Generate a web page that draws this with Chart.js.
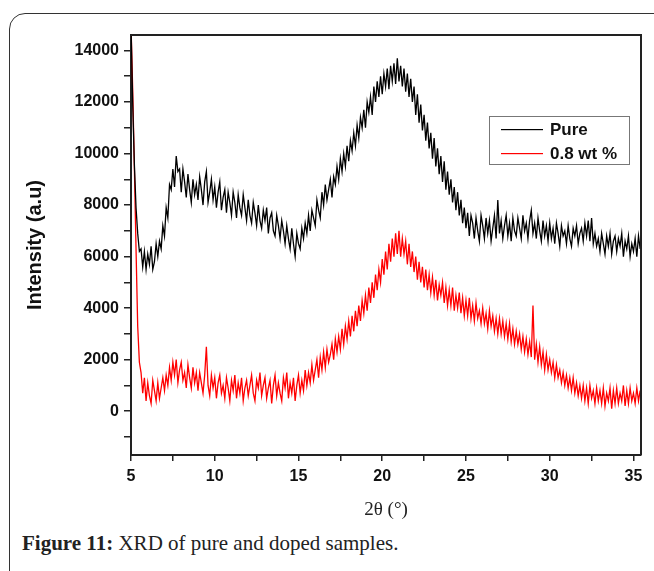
<!DOCTYPE html>
<html>
<head>
<meta charset="utf-8">
<script src="https://cdn.jsdelivr.net/npm/chart.js@4"></script>
<style>
    body { margin: 0; background: #fff; width: 654px; height: 571px; overflow: hidden; position: relative; }
    #cornice { position: absolute; left: 9px; top: 13px; width: 720px; height: 620px; border: 1px solid #333; border-radius: 16px; }
    #contenitore { position: absolute; left: 0; top: 0; width: 654px; height: 530px; }
    #didascalia { position: absolute; left: 22px; top: 531px; font-family: "Liberation Serif", serif; font-size: 21px; color: #222; white-space: nowrap; }
</style>
</head>
<body>
<div id="cornice"></div>
<div id="contenitore"><canvas id="graficoXrd" width="654" height="530"></canvas></div>
<div id="didascalia"><b>Figure 11:</b> XRD of pure and doped samples.</div>
<script>
// 2θ scan: 5.0 -> 35.4, step 0.1
const inizioAngolo = 5.0;
const passoAngolo = 0.1;

const etichettaPure = 'Pure';
const etichettaDrogato = '0.8 wt %';
const colorePure = '#000000';
const coloreDrogato = '#ff0000';

// Pure (one row = 1 degree)
const intensitaPure = [
    15000, 12000, 9600, 7900, 6900, 6200, 6300, 5600, 6200, 5500,
    6100, 5700, 6400, 5500, 5800, 6500, 6000, 6600, 6300, 7200,
    6800, 7900, 7500, 8800, 8600, 9400, 8700, 9900, 9300, 9400,
    8500, 9400, 8900, 8300, 9200, 8600, 8100, 9000, 8400, 8800,
    8200, 9100, 8600, 8000, 8900, 9300, 8100, 8500, 9000, 8200,
    8700, 7900, 8500, 8900, 7800, 8300, 8600, 7700, 8500, 8100,
    7600, 8500, 8100, 7500, 8400, 7900, 7600, 8400, 7900, 7400,
    8200, 7600, 7300, 8100, 7700, 7200, 8000, 7400, 7100, 7800,
    7400, 7900, 6900, 7500, 7700, 7000, 6800, 7600, 7200, 6700,
    7400, 7000, 6500, 7200, 6700, 6300, 7100, 6500, 6000, 6900,
    6500, 6300, 7100, 6700, 7300, 6900, 7600, 7000, 7800, 7500,
    7200, 8200, 7800, 7500, 8500, 8000, 8800, 8200, 8600, 9000,
    8300, 9100, 8800, 9500, 9000, 9800, 9300, 10000, 9500, 10300,
    9700, 10500, 10100, 10800, 10300, 11100, 10600, 11400, 11000, 11700,
    11000, 12000, 11600, 12200, 11500, 12600, 12000, 12800, 12200, 13000,
    12300, 13100, 12600, 13300, 12500, 13400, 12800, 13500, 12700, 13700,
    12800, 13400, 12600, 13300, 12400, 13100, 12200, 12900, 12000, 12600,
    11500, 12300, 11200, 11900, 10900, 11500, 10500, 11200, 10200, 10800,
    9800, 10600, 9500, 10200, 9200, 9900, 8900, 9700, 8600, 9300,
    8400, 9000, 8100, 8700, 7800, 8500, 7600, 8200, 7300, 7900,
    7100, 7700, 6800, 7600, 7300, 6700, 7500, 7000, 6600, 7600,
    7200, 6700, 7500, 6900, 7400, 6600, 7100, 7600, 6700, 8200,
    6900, 7400, 6700, 7200, 7600, 6800, 7300, 6600, 7500, 7000,
    6800, 7500, 7100, 6700, 7600, 7000, 7300, 6700, 7400, 7800,
    6900, 7300, 6700, 7500, 7000, 6600, 7400, 6800, 7200, 6600,
    7300, 6700, 7100, 6500, 7300, 6900, 6400, 7200, 6800, 7000,
    6500, 7200, 6700, 6400, 7100, 6800, 7200, 6500, 6900, 7100,
    6600, 7300, 6800, 7400, 6600, 7500, 6500, 6900, 6400, 6700,
    6200, 6900, 6500, 6100, 6800, 6400, 6900, 6100, 6600, 6800,
    6200, 6700, 6400, 6900, 6000, 6600, 6300, 6800, 6000, 6500,
    6200, 6700, 6000, 6800, 6300
];

// 0.8 wt %
const intensitaDrogato = [
    15000, 12500, 9500, 6300, 3300, 1900, 1500, 700, 1300, 400,
    1100, 600, 300, 1200, 800, 400, 1100, 500, 900, 1300,
    800, 1400, 1000, 1700, 1200, 1900, 1400, 2000, 1100, 1600,
    1900, 1200, 1500, 900, 1800, 1300, 900, 1700, 1100, 1500,
    800, 1500, 1100, 700, 1400, 2500, 1000, 600, 1400, 900,
    1300, 500, 1100, 1400, 700, 1000, 500, 1300, 900, 400,
    1200, 800, 1400, 500, 1100, 700, 1300, 400, 900, 1200,
    600, 1000, 1400, 700, 400, 1200, 900, 1500, 600, 1000,
    1300, 500, 900, 1200, 300, 1000, 1400, 600, 1100, 700,
    400, 1300, 900, 1500, 500, 1100, 700, 1300, 400, 1000,
    1400, 700, 1200, 800, 1600, 1000, 1500, 1100, 1800, 1200,
    1600, 2000, 1300, 2100, 1600, 2300, 1700, 2400, 1900, 2200,
    2600, 2000, 2800, 2300, 2900, 2400, 3200, 2600, 3300, 2800,
    3500, 2900, 3700, 3100, 3900, 3300, 4100, 3500, 4300, 3800,
    4500, 3900, 4800, 4200, 5000, 4400, 5300, 4700, 5500, 5000,
    5900, 5300, 6200, 5500, 6500, 5800, 6700, 6000, 6900, 6100,
    7000, 6000, 6700, 6100, 6600, 5700, 6500, 5600, 6200, 5400,
    6000, 5100, 5800, 5000, 5600, 4800, 5500, 4700, 5300, 4600,
    5200, 4500, 5100, 4300, 4900, 4500, 5000, 4200, 4800, 4100,
    4700, 4100, 4800, 3900, 4500, 4000, 4600, 3800, 4400, 3700,
    4300, 3700, 4400, 3600, 4100, 3500, 4200, 3600, 3900, 3400,
    4000, 3400, 3800, 3200, 3900, 3300, 3700, 3100, 3600, 3000,
    3600, 3000, 3500, 2900, 3400, 2800, 3400, 2700, 3200, 2600,
    3100, 2600, 3000, 2400, 2900, 2300, 2800, 2200, 2700, 2100,
    4100, 2000, 2600, 1900, 2500, 1800, 2300, 1600, 2200, 1600,
    2000, 1500, 1900, 1300, 1800, 1300, 1600, 1100, 1500, 1000,
    1400, 900, 1300, 800, 1300, 700, 1100, 600, 1000, 500,
    1000, 400, 900, 300, 1000, 500, 800, 300, 900, 400,
    800, 300, 900, 200, 700, 400, 900, 100, 800, 300,
    900, 300, 700, 400, 1000, 200, 800, 300, 900, 400,
    700, 300, 900, 400, 800
];

// axes
const minX = 5, maxX = 35.45;
const minY = -1700, maxY = 14600;
const tickX = [5, 7.5, 10, 12.5, 15, 17.5, 20, 22.5, 25, 27.5, 30, 32.5, 35];
const tickY = [-1000, 0, 1000, 2000, 3000, 4000, 5000, 6000, 7000, 8000, 9000, 10000, 11000, 12000, 13000, 14000];
const etichetteX = [5, 10, 15, 20, 25, 30, 35];
const etichetteY = [0, 2000, 4000, 6000, 8000, 10000, 12000, 14000];

function creaPunti(lista) {
    return lista.map(function(valore, i) {
        return { x: +(inizioAngolo + i * passoAngolo).toFixed(1), y: valore };
    });
}

const fontTick = { family: 'Liberation Sans', size: 16, weight: 'bold' };

// frame on top/right + legend box in the upper right
const cornicePlugin = {
    id: 'cornicePlugin',
    afterDraw(chart) {
        const c = chart.ctx;
        const a = chart.chartArea;
        c.save();
        c.strokeStyle = '#222';
        c.lineWidth = 2;
        c.beginPath();
        c.moveTo(a.left, a.top);
        c.lineTo(a.right, a.top);
        c.lineTo(a.right, a.bottom);
        c.stroke();

        // legend
        c.strokeStyle = '#777';
        c.lineWidth = 1;
        c.strokeRect(489.5, 116.5, 140, 48);
        c.font = 'bold 17px "Liberation Sans"';
        c.textBaseline = 'middle';
        const colori = [colorePure, coloreDrogato];
        const testi = [etichettaPure, etichettaDrogato];
        for (let i = 0; i < testi.length; i++) {
            const y = 129 + i * 24;
            c.fillStyle = colori[i];
            c.fillRect(501, y, 42, 1.2);
            c.fillStyle = '#111';
            c.fillText(testi[i], 550, y + 1);
        }
        c.restore();
    }
};

const ctx = document.getElementById('graficoXrd');

new Chart(ctx, {
    type: 'line',
    data: {
        datasets: [{
            label: etichettaPure,
            data: creaPunti(intensitaPure),
            borderColor: colorePure,
            borderWidth: 1.3,
            pointRadius: 0,
            tension: 0
        }, {
            label: etichettaDrogato,
            data: creaPunti(intensitaDrogato),
            borderColor: coloreDrogato,
            borderWidth: 1.3,
            pointRadius: 0,
            tension: 0
        }]
    },
    options: {
        responsive: false,
        animation: false,
        layout: { padding: { top: 35, right: 13, left: 0, bottom: 0 } },
        plugins: {
            legend: { display: false },
            tooltip: { enabled: false }
        },
        scales: {
            x: {
                type: 'linear',
                min: minX,
                max: maxX,
                afterBuildTicks: function(scala) { scala.ticks = tickX.map(v => ({ value: v })); },
                afterFit: function(scala) { scala.height = 75; },
                ticks: {
                    autoSkip: false,
                    maxRotation: 0,
                    padding: 6,
                    color: '#111',
                    font: fontTick,
                    callback: function(v) { return etichetteX.includes(v) ? v : ''; }
                },
                grid: { drawOnChartArea: false, tickLength: 6, color: '#222', lineWidth: 1.5 },
                border: { color: '#222', width: 2 },
                title: {
                    display: true,
                    text: '2θ (°)',
                    color: '#222',
                    font: { family: 'Liberation Serif', size: 19 },
                    padding: { top: 0, bottom: 9 }
                }
            },
            y: {
                min: minY,
                max: maxY,
                afterBuildTicks: function(scala) { scala.ticks = tickY.map(v => ({ value: v })); },
                afterFit: function(scala) { scala.width = 131; },
                ticks: {
                    autoSkip: false,
                    padding: 5,
                    color: '#111',
                    font: fontTick,
                    callback: function(v) { return etichetteY.includes(v) ? v : ''; }
                },
                grid: { drawOnChartArea: false, tickLength: 7, color: '#222', lineWidth: 1.5 },
                border: { color: '#222', width: 2 },
                title: {
                    display: true,
                    text: 'Intensity (a.u)',
                    color: '#111',
                    font: { family: 'Liberation Sans', size: 20, weight: 'bold' },
                    padding: { top: 23, bottom: 0 }
                }
            }
        }
    },
    plugins: [cornicePlugin]
});
</script>
</body>
</html>
